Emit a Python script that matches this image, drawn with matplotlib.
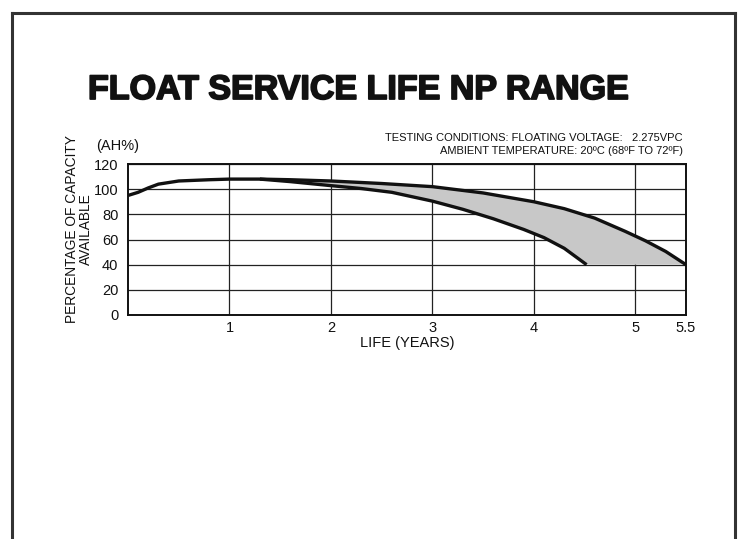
import numpy as np
import matplotlib.pyplot as plt
import matplotlib.patheffects as pe
from matplotlib.lines import Line2D

plt.rcParams['font.family'] = ['Liberation Sans', 'DejaVu Sans']

# Upper boundary of the range (years, AH%)
upper_years = [0.0, 0.1, 0.2, 0.3, 0.5, 0.8, 1.0, 1.3, 1.6, 2.0, 2.5, 3.0, 3.5,
               4.0, 4.3, 4.6, 4.9, 5.1, 5.3, 5.5]
upper_pct = [95, 97.5, 101, 104, 106.5, 107.5, 108, 108, 107.5, 106.5, 104.5, 102,
             97, 90, 84.5, 77, 66.5, 59, 50.5, 40]

# Lower boundary of the range
lower_years = [1.3, 1.6, 2.0, 2.3, 2.6, 3.0, 3.3, 3.6, 3.9, 4.1, 4.3, 4.52]
lower_pct = [108, 106, 102.8, 100.5, 97.5, 90.5, 84, 76.5, 68, 61.5, 53, 40]

x_ticks = [1, 2, 3, 4, 5, 5.5]
y_ticks = [0, 20, 40, 60, 80, 100, 120]

fig = plt.figure(figsize=(7.38, 5.39), dpi=100)
ax = fig.add_axes([128 / 738, 224 / 539, 558 / 738, 151 / 539])

# shaded band between the two curves
i0 = upper_years.index(1.3)
band_x = np.concatenate([upper_years[i0:], lower_years[::-1]])
band_y = np.concatenate([upper_pct[i0:], lower_pct[::-1]])
ax.fill(band_x, band_y, color='#c8c8c8', lw=0, zorder=2)

ax.plot(upper_years, upper_pct, color='#111111', lw=2.4, zorder=3,
        solid_capstyle='butt')
ax.plot(lower_years, lower_pct, color='#111111', lw=2.4, zorder=3,
        solid_capstyle='butt')

ax.set_xlim(0, 5.5)
ax.set_ylim(0, 120)
ax.set_xticks(x_ticks)
ax.set_xticklabels(['1', '2', '3', '4', '5', '5.5'])
ax.set_yticks(y_ticks)
ax.tick_params(length=0, labelsize=10.5, colors='#111111')
ax.tick_params(axis='y', pad=7)
ax.tick_params(axis='x', pad=4)
ax.grid(True, color='#222222', lw=0.9)
ax.set_axisbelow(True)
for s in ax.spines.values():
    s.set_linewidth(1.4)
    s.set_color('#111111')

ax.set_xlabel('LIFE (YEARS)', fontsize=10.5, labelpad=1, color='#111111')

fig.text(88 / 738, 1 - 99 / 539, 'FLOAT SERVICE LIFE NP RANGE',
         fontsize=24.5, fontweight='bold', ha='left', va='baseline', color='#111111',
         path_effects=[pe.withStroke(linewidth=1.3, foreground='#111111')])

fig.text(96 / 738, 1 - 146 / 539, '(AH%)', fontsize=10.5, ha='left', va='center',
         color='#111111')
fig.text(79 / 738, 1 - 229 / 539, 'PERCENTAGE OF CAPACITY\nAVAILABLE', fontsize=9.9,
         rotation=90, ha='center', va='center', linespacing=1.0, color='#111111')

fig.text(683 / 738, 1 - 138 / 539,
         'TESTING CONDITIONS: FLOATING VOLTAGE:   2.275VPC', fontsize=8,
         ha='right', va='center', color='#111111')
fig.text(683 / 738, 1 - 151 / 539,
         'AMBIENT TEMPERATURE: 20ºC (68ºF TO 72ºF)', fontsize=8,
         ha='right', va='center', color='#111111')

# page frame
bx0, bx1, by0 = 12 / 738, 735 / 738, 1 - 13 / 539
for xs, ys in [([bx0, bx0], [0, by0]), ([bx0, bx1], [by0, by0]), ([bx1, bx1], [by0, 0])]:
    fig.add_artist(Line2D(xs, ys, color='#333333', lw=2.2, transform=fig.transFigure))

fig.savefig('out.png', dpi=100)
